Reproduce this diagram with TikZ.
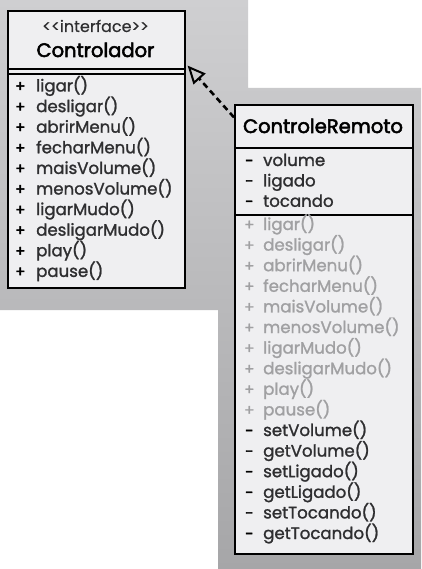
\documentclass[tikz,border=0pt]{standalone}
\usepackage{fontspec}
\setmainfont{Poppins}
\newfontfamily\umlfont{Poppins}[FakeBold=1.3]
\newfontfamily\umlhead{Poppins}[FakeBold=2.6]
\newfontfamily\umllight{Poppins}[FakeBold=0.4]
\usetikzlibrary{arrows.meta,calc,positioning}
\definecolor{boxfill}{HTML}{EFEFF1}
\definecolor{inktext}{HTML}{2E2E30}
\definecolor{inherited}{HTML}{A0A0A2}
\definecolor{bgtop}{HTML}{CFCFD1}
\definecolor{bgbot}{HTML}{A6A6A8}
\tikzset{
  compart/.style={draw=black, line width=1.6pt, fill=boxfill, inner sep=0pt, anchor=north west},
  member/.style={anchor=base west, inner sep=0pt, font=\umlfont\fontsize{16.6}{18}\selectfont, text=inktext},
  sign/.style={anchor=base west, inner sep=0pt, font=\umlhead\fontsize{15}{18}\selectfont, text=black},
  oldmember/.style={member, text=inherited},
  oldsign/.style={sign, font=\umlfont\fontsize{15}{18}\selectfont, text=inherited},
  title/.style={anchor=base, inner sep=0pt, font=\umlhead\fontsize{19.5}{21}\selectfont, text=black},
  realize/.style={dashed, dash pattern=on 6pt off 4pt, line width=2.6pt,
    -{Triangle[open, length=18pt, width=16pt, line width=2pt]}}
}
\begin{document}
\begin{tikzpicture}[x=1pt,y=-1pt]
  \useasboundingbox[fill=white] (0,0) rectangle (421,569);
  % grey backdrop
  \shade[top color=bgtop, bottom color=bgbot]
    (0,0) -- (248,0) -- (248,88) -- (421,88) -- (421,569) -- (218,569) -- (218,310) -- (0,310) -- cycle;

  % interface Controlador
  \node[compart, minimum width=177pt, minimum height=58pt] (chead) at (7,10) {};
  \node[compart, minimum width=177pt, minimum height=5pt] (cattr) at (7,68) {};
  \node[compart, minimum width=177pt, minimum height=214pt] (cmeth) at (7,73) {};
  \node[anchor=base, inner sep=0pt, font=\umllight\fontsize{16}{17}\selectfont, text=inktext] (cster) at (95.5,32)
    {<<interface>>};
  \node[title] (cname) at (95.5,57) {Controlador};
  \foreach \m [count=\i] in {ligar,desligar,abrirMenu,fecharMenu,maisVolume,menosVolume,ligarMudo,desligarMudo,play,pause} {
    \node[sign] (cs\i) at (15,{91.5+20.6*(\i-1)}) {+};
    \node[member] (cm\i) at (36,{91.5+20.6*(\i-1)}) {\m()};
  }

  % class ControleRemoto
  \node[compart, minimum width=178pt, minimum height=43pt] (rhead) at (234,104) {};
  \node[compart, minimum width=178pt, minimum height=67pt] (rattr) at (234,147) {};
  \node[compart, minimum width=178pt, minimum height=339pt] (rmeth) at (234,214) {};
  \node[title] (rname) at (323,133) {ControleRemoto};
  \foreach \a [count=\i] in {volume,ligado,tocando} {
    \node[sign] (ras\i) at (245,{166+20.4*(\i-1)}) {-};
    \node[member] (ra\i) at (263,{166+20.4*(\i-1)}) {\a};
  }
  \foreach \m [count=\i] in {ligar,desligar,abrirMenu,fecharMenu,maisVolume,menosVolume,ligarMudo,desligarMudo,play,pause} {
    \node[oldsign] (rs\i) at (244,{230+20.6*(\i-1)}) {+};
    \node[oldmember] (rm\i) at (263,{230+20.6*(\i-1)}) {\m()};
  }
  \foreach \m [count=\i from 11] in {setVolume,getVolume,setLigado,getLigado,setTocando,getTocando} {
    \node[sign] (rs\i) at (245,{230+20.6*(\i-1)}) {-};
    \node[member] (rm\i) at (263,{230+20.6*(\i-1)}) {\m()};
  }

  % realization
  \coordinate (tip) at ($(chead.south east)+(2,-4)$);
  \draw[realize] ($(rhead.north west)!0.3!(rhead.south west)$) -- (tip);
\end{tikzpicture}
\end{document}
